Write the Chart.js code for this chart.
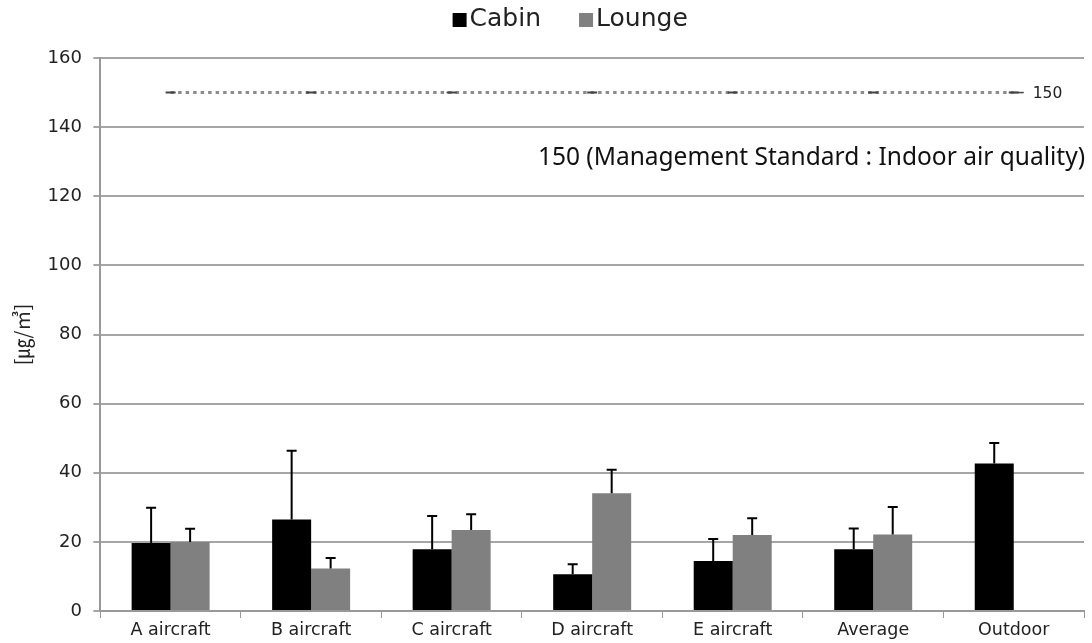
<!DOCTYPE html>
<html>
<head>
<meta charset="utf-8">
<script src="https://cdn.jsdelivr.net/npm/chart.js@4"></script>
<style>
  html, body { margin: 0; padding: 0; background: #fff; }
  #wrap { width: 1092px; height: 643px; position: relative; }
</style>
</head>
<body>
<div id="wrap"><canvas id="chart"></canvas></div>
<script>
// Chart data
const categories = ['A aircraft', 'B aircraft', 'C aircraft', 'D aircraft', 'E aircraft', 'Average', 'Outdoor'];
const cabinValues = [19.7, 26.5, 17.9, 10.6, 14.5, 17.9, 42.7];
const cabinErrors = [10.2, 19.9, 9.6, 2.9, 6.3, 6.0, 5.9];
const loungeValues = [20.0, 12.3, 23.4, 34.1, 22.0, 22.1, null];
const loungeErrors = [3.8, 3.0, 4.6, 6.8, 4.8, 8.0, null];
const standardValues = [150, 150, 150, 150, 150, 150, 150];
const yTicks = [0, 20, 40, 60, 80, 100, 120, 140, 160];

const tickFont = '"DejaVu Sans", sans-serif';

// upper error bars for the bar datasets
const errorBarPlugin = {
    id: 'errorBars',
    afterDatasetsDraw(chart) {
        const ctx = chart.ctx;
        const yScale = chart.scales.y;
        ctx.save();
        ctx.strokeStyle = '#000';
        ctx.lineWidth = 2;
        chart.data.datasets.forEach((ds, i) => {
            if (!ds.errors) return;
            const meta = chart.getDatasetMeta(i);
            meta.data.forEach((bar, j) => {
                const v = ds.data[j];
                const e = ds.errors[j];
                if (v == null || e == null) return;
                const yTop = yScale.getPixelForValue(v + e);
                ctx.beginPath();
                ctx.moveTo(bar.x, bar.y);
                ctx.lineTo(bar.x, yTop);
                ctx.moveTo(bar.x - 5, yTop);
                ctx.lineTo(bar.x + 5, yTop);
                ctx.stroke();
            });
        });
        ctx.restore();
    }
};

// legend, label at the end of the standard line and the note text
const notePlugin = {
    id: 'notes',
    afterDraw(chart) {
        const ctx = chart.ctx;
        const area = chart.chartArea;
        ctx.save();

        // legend (bar datasets only)
        ctx.font = '25px ' + tickFont;
        ctx.textBaseline = 'middle';
        ctx.textAlign = 'left';
        const items = chart.data.datasets.filter(ds => ds.type !== 'line');
        const box = 14, gap = 3, spacing = 38;
        let total = 0;
        items.forEach((ds, k) => {
            total += box + gap + ctx.measureText(ds.label).width + (k ? spacing : 0);
        });
        let x = (area.left + area.right) / 2 - 22 - total / 2;
        const ly = 19;
        items.forEach(ds => {
            ctx.fillStyle = ds.backgroundColor;
            ctx.fillRect(x, ly - box / 2 + 1, box, box);
            x += box + gap;
            ctx.fillStyle = '#222';
            ctx.fillText(ds.label, x, ly);
            x += ctx.measureText(ds.label).width + spacing;
        });

        // label next to the end of the standard line
        const meta = chart.getDatasetMeta(2);
        const last = meta.data[meta.data.length - 1];
        ctx.strokeStyle = '#444';
        ctx.lineWidth = 1.5;
        ctx.beginPath();
        ctx.moveTo(last.x, last.y);
        ctx.lineTo(last.x + 10, last.y);
        ctx.stroke();
        ctx.fillStyle = '#222';
        ctx.font = '15.5px ' + tickFont;
        ctx.fillText('150', last.x + 19, last.y + 1);

        // note text
        ctx.font = '24.5px "Noto Sans", sans-serif';
        ctx.textAlign = 'right';
        ctx.fillStyle = '#111';
        ctx.fillText('150 (Management Standard : Indoor air quality)', area.right + 1, chart.scales.y.getPixelForValue(131));
        ctx.restore();
    }
};

const ctx = document.getElementById('chart').getContext('2d');
const chart = new Chart(ctx, {
    type: 'bar',
    data: {
        labels: categories,
        datasets: [
            {
                label: 'Cabin',
                data: cabinValues,
                errors: cabinErrors,
                backgroundColor: '#000000',
                borderWidth: 0,
                categoryPercentage: 0.555,
                barPercentage: 1.0,
                order: 2
            },
            {
                label: 'Lounge',
                data: loungeValues,
                errors: loungeErrors,
                backgroundColor: '#808080',
                borderWidth: 0,
                categoryPercentage: 0.555,
                barPercentage: 1.0,
                order: 2
            },
            {
                type: 'line',
                label: 'Standard',
                data: standardValues,
                borderColor: '#8c8c8c',
                borderWidth: 3,
                borderDash: [3.5, 4],
                pointStyle: 'line',
                pointRadius: 5,
                pointBorderColor: '#444',
                pointBorderWidth: 2,
                fill: false,
                order: 1
            }
        ]
    },
    options: {
        responsive: true,
        maintainAspectRatio: false,
        animation: false,
        layout: { padding: { left: 10, right: 8, top: 58, bottom: 0 } },
        plugins: {
            legend: { display: false },
            tooltip: { enabled: false }
        },
        scales: {
            x: {
                grid: {
                    display: true,
                    drawOnChartArea: false,
                    drawTicks: true,
                    tickLength: 7,
                    offset: true,
                    color: '#999'
                },
                border: { color: '#999', width: 2 },
                ticks: {
                    color: '#222',
                    padding: 2,
                    font: { size: 17.5, family: tickFont }
                }
            },
            y: {
                min: 0,
                max: 160,
                afterBuildTicks: axis => { axis.ticks = yTicks.map(v => ({ value: v })); },
                grid: {
                    color: '#a6a6a6',
                    lineWidth: 2,
                    tickLength: 7
                },
                border: { color: '#999', width: 2 },
                ticks: {
                    color: '#222',
                    padding: 11.5,
                    font: { size: 18, family: tickFont }
                },
                title: {
                    display: true,
                    text: '[㎍/㎥]',
                    color: '#222',
                    padding: { top: 0, bottom: 2 },
                    font: { size: 20, family: '"Noto Sans CJK KR", sans-serif' }
                }
            }
        }
    },
    plugins: [errorBarPlugin, notePlugin]
});
</script>
</body>
</html>
